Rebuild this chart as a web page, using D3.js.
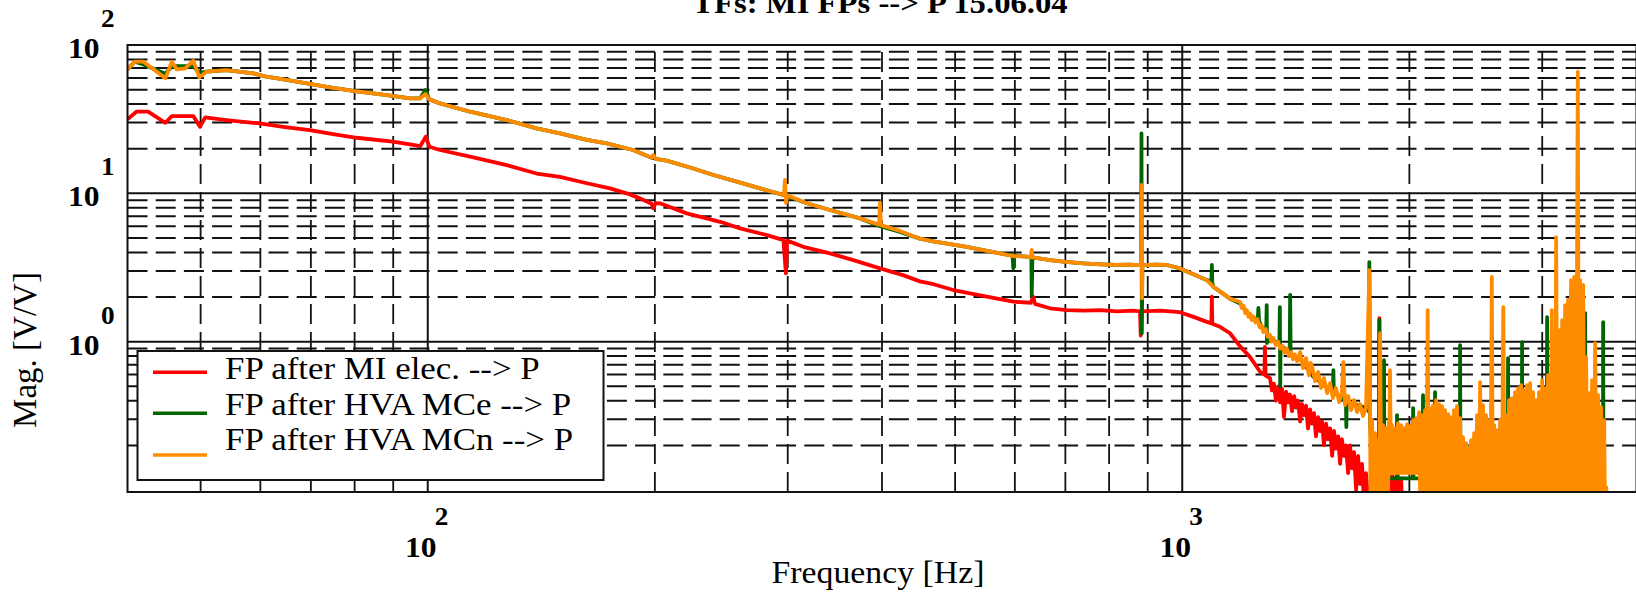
<!DOCTYPE html>
<html>
<head>
<meta charset="utf-8">
<script src="https://cdn.jsdelivr.net/npm/d3@7"></script>
<style>
  body { margin: 0; background: #fff; }
  svg { display: block; }
  text { font-family: "Liberation Serif", "Times New Roman", serif; fill: #000; }
</style>
</head>
<body>
<div id="chart"></div>
<script>
// Transfer functions, magnitude vs frequency, [Hz, V/V]
const seriesNames = ["FP after MI elec. --> P", "FP after HVA MCe --> P", "FP after HVA MCn --> P"];

const miElec = [
  [40.0, 31.6], [41.1, 35.5], [42.6, 35.5], [44.9, 29.9], [45.8, 33.2], [48.9, 33.2], [49.9, 28.1], [50.7, 32.5],
  [54.1, 31.2], [59.9, 29.6], [64.3, 28.1], [69.8, 26.7], [74.9, 25.1], [80.5, 23.7], [89.9, 22.3], [95.6, 21.2],
  [97.7, 20.8], [99.4, 24.1], [100.5, 20.6], [103.8, 19.6], [113.8, 17.7], [127.3, 15.5], [139.4, 13.6], [149.7, 12.9],
  [162.5, 11.7], [174.4, 10.8], [183.5, 10.0], [191.1, 9.25], [198, 8.5], [199, 7.93], [200.5, 8.6], [203.1, 8.57],
  [220.4, 7.33], [244.1, 6.43], [259.4, 5.81], [281.5, 5.23], [296.1, 4.84], [298.3, 2.89], [299.5, 4.8], [314.6, 4.36],
  [341.3, 3.94], [366.5, 3.55], [397.6, 3.12], [426.4, 2.81], [449, 2.55], [468, 2.44], [497.3, 2.23], [550.7, 2.01],
  [597.1, 1.86], [630, 1.83], [634.6, 2.01], [638, 1.8], [667.8, 1.68], [702.7, 1.63], [740, 1.62], [778, 1.63],
  [820, 1.6], [861, 1.62], [879, 1.6], [881, 1.1], [883, 1.6], [934, 1.62], [993, 1.58], [1035, 1.47],
  [1078, 1.36], [1093, 1.33], [1094.6, 2.01], [1096, 1.32], [1122, 1.26], [1157, 1.14], [1193, 0.93], [1230, 0.787],
  [1268, 0.627], [1285, 0.60], [1287, 0.924], [1290, 0.59],
  [1307, 0.568], [1315, 0.47], [1323, 0.52], [1331, 0.40], [1340, 0.50], [1348, 0.39], [1356, 0.48], [1364, 0.31],
  [1373, 0.46], [1381, 0.39], [1389, 0.44], [1398, 0.34], [1407, 0.43], [1415, 0.36], [1424, 0.40], [1433, 0.29],
  [1441, 0.38], [1450, 0.32], [1459, 0.37], [1468, 0.26], [1477, 0.35], [1486, 0.28], [1495, 0.33], [1504, 0.23],
  [1514, 0.31], [1523, 0.25], [1532, 0.29], [1541, 0.20], [1551, 0.28], [1560, 0.22], [1570, 0.26], [1580, 0.17],
  [1589, 0.25], [1599, 0.19], [1609, 0.23], [1619, 0.15], [1628, 0.22], [1638, 0.17], [1648, 0.20], [1659, 0.13],
  [1669, 0.20], [1679, 0.14], [1689, 0.18], [1700, 0.10], [1710, 0.17], [1720, 0.11], [1731, 0.15], [1742, 0.08],
  [1752, 0.13], [1763, 0.085], [1774, 0.10], [1785, 0.079],
  [1815, 0.06], [1822, 0.07], [1825, 1.443], [1828, 0.07], [1880, 0.06], [1886, 0.12], [1892, 0.07], [1898, 0.13],
  [1904, 0.07], [1912, 0.12], [1920, 0.07], [1930, 0.125], [1940, 0.07], [1950, 0.12], [1960, 0.06], [2240, 0.06],
  [2244, 0.305], [2248, 0.06], [4000, 0.06]
];

const hvaMCe = [
  [40.0, 68.5], [40.9, 77.2], [42.0, 74], [44.9, 64], [45.8, 72], [48.9, 72], [49.8, 65], [50.9, 66.1],
  [54.1, 67.8], [58.7, 64.4], [61.1, 61.1], [65.0, 58.1], [69.1, 55.2], [74.2, 51.9], [79.7, 49.0], [88.3, 46.0],
  [94.8, 43.7], [97.7, 43.7], [99.3, 49.7], [100.5, 43.0], [103.8, 40.4], [113.8, 35.5], [127.3, 31.2], [139.4, 27.4],
  [149.7, 25.4], [162.5, 22.9], [172.6, 21.7], [187.1, 19.6], [198, 17.4], [200.5, 17.1], [207.3, 16.6], [224.9, 14.7],
  [239.1, 13.3], [256.8, 12.0], [275.7, 10.8], [297.5, 9.7], [318.0, 8.57], [341.3, 7.72], [374.1, 6.78], [397.6, 6.0],
  [422.6, 5.5], [449, 4.95], [468, 4.75], [518, 4.36], [573, 3.94], [596, 3.8], [597.1, 3.12], [598.5, 3.8],
  [622, 3.74], [631, 3.7], [631.7, 2.06], [633, 3.7], [667.8, 3.55], [700, 3.45], [739.4, 3.37], [780, 3.32],
  [818.6, 3.29], [850, 3.3], [882, 3.28], [883, 25.4], [884, 1.14], [885.5, 3.28], [920, 3.3], [953.8, 3.29],
  [993, 3.12], [1034.6, 2.85], [1077.6, 2.60], [1093, 2.55], [1094.6, 3.29], [1096, 2.5], [1100, 2.34], [1157, 1.95],
  [1193, 1.81], [1218, 1.58], [1242, 1.45], [1259, 1.4], [1261.6, 1.69], [1264, 1.38], [1281, 1.20], [1292, 1.17],
  [1294, 1.765], [1295, 0.979], [1297, 1.12], [1320, 1.03], [1345, 0.96], [1347, 1.711], [1348.5, 0.50], [1350, 0.94],
  [1376, 0.878], [1388, 0.84], [1390, 2.07], [1392, 0.82], [1433, 0.77], [1492, 0.58], [1554, 0.497], [1584, 0.47],
  [1586, 0.643], [1588, 0.46], [1619, 0.425], [1648, 0.40], [1650, 0.266], [1652, 0.40], [1703, 0.374], [1752, 0.36],
  [1766, 0.34], [1770, 3.44], [1773, 0.3], [1790, 0.12], [1822, 0.12], [1825, 1.399], [1828, 0.12], [1849, 0.12],
  [1851, 0.751], [1853, 0.12], [1924, 0.12], [1926, 0.320], [1928, 0.12], [2021, 0.12], [2023, 0.357], [2025, 0.12],
  [2083, 0.12], [2085, 0.436], [2087, 0.12], [2161, 0.12], [2163, 0.457], [2165, 0.12], [2333, 0.12], [2335, 0.949],
  [2337, 0.12], [2701, 0.12], [2703, 0.775], [2705, 0.12], [2819, 0.12], [2821, 0.994], [2823, 0.12], [3043, 0.12],
  [3045, 1.465], [3047, 0.12], [3418, 0.12], [3420, 1.559], [3422, 0.12], [3611, 0.12], [3613, 1.356], [3616, 0.12],
  [3640, 0.06], [4000, 0.06]
];

const hvaMCn = [
  [40.0, 68.5], [40.9, 77.2], [42.0, 77.2], [44.9, 59.6], [45.8, 77.2], [46.5, 68.5], [47.7, 69.6], [48.9, 78.4],
  [49.8, 60.5], [50.9, 66.1], [54.1, 67.8], [58.7, 64.4], [61.1, 61.1], [65.0, 58.1], [69.1, 55.2], [74.2, 51.9],
  [79.7, 49.0], [88.3, 46.0], [94.8, 43.7], [97.7, 43.7], [99.3, 46.8], [100.5, 43.0], [103.8, 40.4], [113.8, 35.5],
  [127.3, 31.2], [139.4, 27.4], [149.7, 25.4], [162.5, 22.9], [172.6, 21.7], [187.1, 19.6], [198, 17.4], [199, 18.1],
  [200.5, 17.1], [207.3, 16.6], [224.9, 14.7], [239.1, 13.3], [256.8, 12.0], [275.7, 10.8], [296.5, 9.74], [297.5, 12.3],
  [298.5, 8.6], [299.5, 9.7], [318.0, 8.57], [341.3, 7.72], [374.1, 6.78], [396.5, 6.15], [397.6, 8.64], [398.7, 6.1],
  [422.6, 5.58], [449, 4.95], [468, 4.75], [518, 4.36], [573, 3.94], [597, 3.78], [622, 3.74], [630, 3.7],
  [631.7, 4.15], [633.5, 3.7], [667.8, 3.55], [700, 3.45], [739.4, 3.37], [780, 3.32], [818.6, 3.29], [850, 3.3],
  [882, 3.28], [883.6, 11.4], [884.5, 1.96], [885.5, 3.28], [920, 3.3], [953.8, 3.29], [993, 3.12], [1034.6, 2.85],
  [1077.6, 2.60], [1100, 2.34], [1157, 1.95],
  [1193, 1.85], [1200, 1.68], [1206, 1.75], [1212, 1.56], [1218, 1.63], [1224, 1.47], [1230, 1.55], [1236, 1.40],
  [1242, 1.48], [1250, 1.35], [1258, 1.42], [1266, 1.25], [1273, 1.30], [1281, 1.16], [1290, 1.22], [1298, 1.08],
  [1306, 1.12], [1313, 1.00], [1320, 1.06], [1330, 0.95], [1340, 1.0], [1348, 0.90], [1357, 0.94], [1366, 0.84],
  [1376, 0.90], [1385, 0.80], [1394, 0.85], [1402, 0.76], [1410, 0.82], [1420, 0.74],
  [1433, 0.851], [1446, 0.664], [1459, 0.775], [1472, 0.595], [1479, 0.72], [1486, 0.685], [1500, 0.542], [1514, 0.624],
  [1527, 0.487], [1541, 0.568], [1556, 0.450], [1570, 0.526], [1584, 0.417], [1599, 0.487], [1614, 0.392], [1628, 0.457],
  [1635, 0.729], [1643, 0.374], [1659, 0.430], [1674, 0.346], [1689, 0.404], [1705, 0.335], [1720, 0.380], [1736, 0.315],
  [1752, 0.357],
  [1770, 3.04], [1777, 0.06], [1785, 0.296], [1793, 0.06], [1801, 0.242], [1809, 0.06], [1818, 0.217], [1823, 0.06],
  [1829, 1.143], [1837, 0.06], [1846, 0.274], [1854, 0.06], [1863, 0.2615], [1871, 0.06], [1880, 0.296], [1882, 0.2],
  [1885, 0.643], [1891, 0.13], [1897, 0.274], [1906, 0.13], [1915, 0.2615], [1923, 0.13], [1932, 0.2825], [1941, 0.13],
  [1950, 0.274], [1959, 0.13], [1968, 0.2615], [1977, 0.13], [1986, 0.278], [1995, 0.13], [2004, 0.270], [2013, 0.13],
  [2023, 0.296], [2032, 0.13], [2041, 0.305], [2050, 0.13], [2060, 0.335], [2069, 0.06], [2079, 0.320], [2088, 0.06],
  [2098, 0.346], [2106, 0.06], [2115, 1.634], [2122, 0.06], [2130, 0.357], [2140, 0.06], [2150, 0.374], [2160, 0.06],
  [2170, 0.404], [2180, 0.06], [2190, 0.380], [2200, 0.06], [2210, 0.368], [2220, 0.06], [2230, 0.346], [2240, 0.06],
  [2251, 0.325], [2261, 0.06], [2271, 0.310], [2281, 0.06], [2292, 0.346], [2302, 0.06], [2313, 0.368], [2324, 0.06],
  [2335, 0.305], [2345, 0.06], [2356, 0.2275], [2367, 0.06], [2378, 0.207], [2386, 0.06], [2395, 0.1946], [2404, 0.06],
  [2414, 0.217], [2425, 0.06], [2437, 0.242], [2448, 0.06], [2459, 0.320], [2470, 0.06], [2482, 0.534], [2493, 0.06],
  [2504, 0.374], [2515, 0.06], [2527, 0.320], [2539, 0.06], [2551, 0.296], [2561, 0.06], [2572, 2.73], [2581, 0.06],
  [2590, 0.274], [2602, 0.06], [2614, 0.2535], [2626, 0.06], [2638, 0.296], [2651, 0.06], [2664, 1.711], [2675, 0.06],
  [2687, 0.320], [2699, 0.06], [2711, 0.404], [2723, 0.06], [2736, 0.417], [2748, 0.06], [2761, 0.457], [2774, 0.06],
  [2787, 0.487], [2800, 0.06], [2812, 0.510], [2825, 0.06], [2838, 0.472], [2851, 0.06], [2864, 0.510], [2877, 0.06],
  [2891, 0.526], [2904, 0.06], [2917, 0.457], [2930, 0.06], [2944, 0.404], [2957, 0.06], [2971, 0.457], [2985, 0.06],
  [2999, 0.551], [3012, 0.06], [3026, 0.487], [3040, 0.06], [3054, 0.595], [3071, 0.06], [3089, 1.634], [3100, 0.06],
  [3111, 1.025], [3120, 0.06], [3130, 5.07], [3144, 0.06], [3158, 1.197], [3173, 0.06], [3188, 1.399], [3202, 0.06],
  [3217, 1.765], [3231, 0.06], [3246, 1.91], [3261, 0.06], [3276, 2.60], [3291, 0.06], [3307, 2.73], [3325, 0.06],
  [3344, 65.8], [3356, 0.06], [3368, 2.60], [3383, 0.06], [3399, 2.41], [3414, 0.06], [3430, 0.787], [3445, 0.06],
  [3461, 0.450], [3477, 0.06], [3493, 0.551], [3509, 0.06], [3526, 0.979], [3542, 0.06], [3558, 0.436], [3574, 0.06],
  [3591, 0.362], [3607, 0.06], [3624, 0.296], [3635, 0.06], [3646, 0.1045], [3700, 0.05], [4000, 0.05]
];

// grid and tick values
const xMajor = [100, 1000];
const xMinor = [50, 60, 70, 80, 90, 200, 300, 400, 500, 600, 700, 800, 900, 2000, 3000];
const yMajor = [1, 10];
const yMinor = [0.2, 0.3, 0.4, 0.5, 0.6, 0.7, 0.8, 0.9, 2, 3, 4, 5, 6, 7, 8, 9, 20, 30, 40, 50, 60, 70, 80, 90];
const xTickLabels = [{ value: 100, exp: "2" }, { value: 1000, exp: "3" }];
const yTickLabels = [{ value: 100, exp: "2" }, { value: 10, exp: "1" }, { value: 1, exp: "0" }];

const titleText = "TFs: MI FPs --> P 15.06.04";
const xTitle = "Frequency [Hz]";
const yTitle = "Mag. [V/V]";

const config = {
    width: 1636,
    height: 595,
    left: 127.5,
    right: 1636.5,
    top: 45,
    bottom: 492,
    colors: ["#ff0000", "#006400", "#ff8c00"],
    stretch: 1.09
};

const svg = d3.select("#chart")
    .append("svg")
    .attr("width", config.width)
    .attr("height", config.height);

svg.append("rect")
    .attr("width", config.width)
    .attr("height", config.height)
    .attr("fill", "#fff");

const xScale = d3.scaleLog()
    .domain([40, 4000])
    .range([config.left, config.right]);

const yScale = d3.scaleLog()
    .domain([0.097, 100])
    .range([config.bottom, config.top]);

// text drawn a little wider than the font, like the old plotter output
function addText(str, x, y, size, weight, anchor) {
    return svg.append("text")
        .attr("transform", "translate(" + x + "," + y + ") scale(" + config.stretch + ",1)")
        .attr("text-anchor", anchor || "start")
        .style("font-size", size + "px")
        .style("font-weight", weight || "normal")
        .text(str);
}

// grid
const grid = svg.append("g");

grid.selectAll(".hminor")
    .data(yMinor)
    .join("line")
    .attr("x1", config.left)
    .attr("x2", config.right)
    .attr("y1", d => yScale(d))
    .attr("y2", d => yScale(d))
    .attr("stroke", "#111")
    .attr("stroke-width", 2)
    .attr("stroke-dasharray", "20,8.2");

grid.selectAll(".vminor")
    .data(xMinor)
    .join("line")
    .attr("x1", d => xScale(d))
    .attr("x2", d => xScale(d))
    .attr("y1", config.bottom)
    .attr("y2", config.top)
    .attr("stroke", "#111")
    .attr("stroke-width", 1.8)
    .attr("stroke-dasharray", "20,8");

grid.selectAll(".hmajor")
    .data(yMajor)
    .join("line")
    .attr("x1", config.left)
    .attr("x2", config.right)
    .attr("y1", d => yScale(d))
    .attr("y2", d => yScale(d))
    .attr("stroke", "#111")
    .attr("stroke-width", 2);

grid.selectAll(".vmajor")
    .data(xMajor)
    .join("line")
    .attr("x1", d => xScale(d))
    .attr("x2", d => xScale(d))
    .attr("y1", config.bottom)
    .attr("y2", config.top)
    .attr("stroke", "#111")
    .attr("stroke-width", 2);

// traces
svg.append("clipPath")
    .attr("id", "plotClip")
    .append("rect")
    .attr("x", config.left)
    .attr("y", config.top)
    .attr("width", config.right - config.left)
    .attr("height", config.bottom - config.top);

const line = d3.line()
    .x(d => xScale(d[0]))
    .y(d => yScale(d[1]));

const traces = [miElec, hvaMCe, hvaMCn];

svg.append("g")
    .attr("clip-path", "url(#plotClip)")
    .selectAll("path")
    .data(traces)
    .join("path")
    .attr("d", line)
    .style("fill", "none")
    .style("stroke", (d, i) => config.colors[i])
    .style("stroke-width", "3.8px")
    .style("stroke-linejoin", "round");

// frame
svg.append("rect")
    .attr("x", config.left)
    .attr("y", config.top)
    .attr("width", config.right - config.left)
    .attr("height", config.bottom - config.top)
    .attr("fill", "none")
    .attr("stroke", "#111")
    .attr("stroke-width", 2);

// legend
const legend = { x: 137.5, y: 351, w: 466, h: 129, lineX: [153, 207], lineY: [372.3, 413.3, 455], textX: 225, textY: [379.3, 415, 450] };

svg.append("rect")
    .attr("x", legend.x)
    .attr("y", legend.y)
    .attr("width", legend.w)
    .attr("height", legend.h)
    .attr("fill", "#fff")
    .attr("stroke", "#111")
    .attr("stroke-width", 2);

seriesNames.forEach((name, i) => {
    svg.append("line")
        .attr("x1", legend.lineX[0])
        .attr("x2", legend.lineX[1])
        .attr("y1", legend.lineY[i])
        .attr("y2", legend.lineY[i])
        .attr("stroke", config.colors[i])
        .attr("stroke-width", 3.5);
    addText(name, legend.textX, legend.textY[i], 32);
});

// tick labels: 10 with the exponent raised on its right
yTickLabels.forEach(t => {
    const yy = yScale(t.value);
    addText("10", 99.5, yy + 13, 29, "bold", "end");
    addText(t.exp, 101, yy - 18, 25, "bold", "start");
});

xTickLabels.forEach(t => {
    const xx = xScale(t.value);
    addText("10", xx - 7, 556.5, 29, "bold", "middle");
    addText(t.exp, xx + 7, 525, 25, "bold", "start");
});

// titles
addText(titleText, 880, 13, 30, "bold", "middle");
addText(xTitle, 878, 583, 31, "normal", "middle");

svg.append("text")
    .attr("transform", "translate(36,350) rotate(-90)")
    .attr("text-anchor", "middle")
    .style("font-size", "33px")
    .text(yTitle);
</script>
</body>
</html>
